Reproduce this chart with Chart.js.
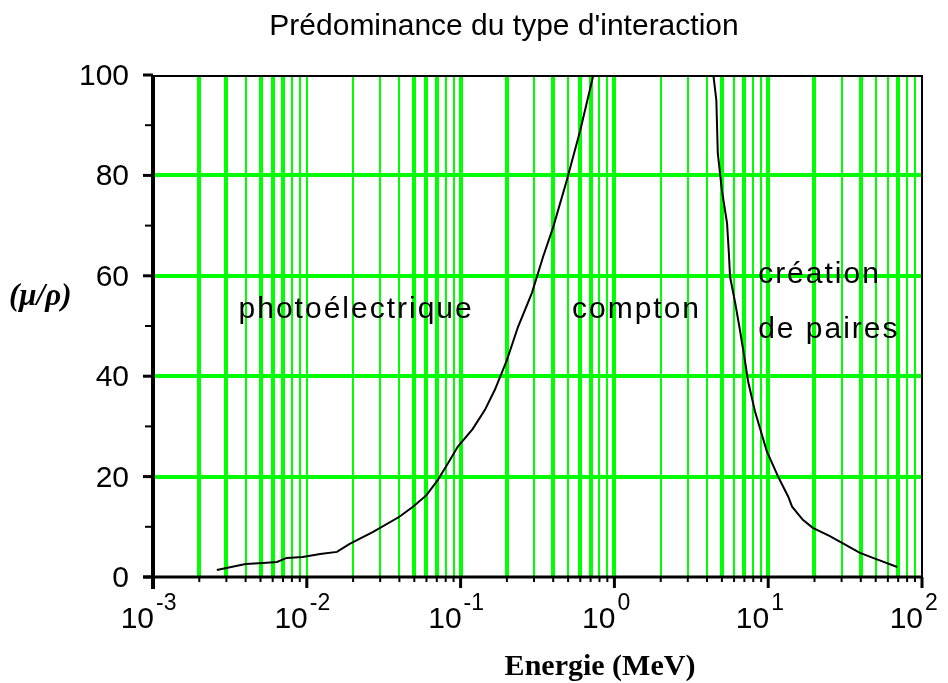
<!DOCTYPE html>
<html>
<head>
<meta charset="utf-8">
<script src="https://cdn.jsdelivr.net/npm/chart.js@4/dist/chart.umd.min.js"></script>
<style>
  html, body { margin: 0; padding: 0; background: #ffffff; }
  #wrap { width: 948px; height: 683px; }
</style>
</head>
<body>
<div id="wrap"><canvas id="c" width="948" height="683"></canvas></div>
<script>
// ---------- texts ----------
const chartTitle = "Prédominance du type d'interaction";
const xAxisTitle = "Energie (MeV)";
const yAxisTitle = "(μ/ρ)";
const regionNames = ["photoélectrique", "compton", "création", "de paires"];
// anchor of each region name in data units (energy MeV, value)
const regionAnchorE = [0.0036, 0.53, 8.6, 8.6];
const regionAnchorV = [51.6, 51.6, 58.6, 47.6];

// ---------- series: photoelectric / compton boundary ----------
const photoComptonE = [0.0026, 0.004, 0.0052, 0.0064, 0.0074, 0.0094, 0.0122, 0.0157, 0.019,
  0.027, 0.04, 0.049, 0.06, 0.071, 0.083, 0.096, 0.12, 0.144, 0.167, 0.20, 0.236, 0.291,
  0.343, 0.40, 0.49, 0.60, 0.73];
const photoComptonV = [1.4, 2.6, 2.8, 3.0, 3.8, 4.0, 4.6, 5.0, 6.6,
  9.0, 12.0, 14.0, 16.3, 19.3, 22.7, 26.0, 29.5, 33.3, 37.3, 43.2, 49.8, 56.6,
  63.7, 69.7, 79.0, 89.0, 100];

// ---------- series: compton / pair creation boundary ----------
const comptonPairE = [4.4, 4.6, 4.7, 5.0, 5.4, 5.55, 5.65, 6.1, 6.55, 7.05, 7.4, 8.2, 9.8,
  11.6, 13.5, 14.3, 16.8, 19.5, 25, 30.2, 39.5, 48, 69];
const comptonPairV = [100, 95, 84.5, 77, 70.5, 64.5, 59.8, 54.6, 49.2, 43.2, 39.0, 33.0, 25.0,
  20.0, 16.0, 14.0, 11.4, 9.8, 8.2, 6.8, 4.8, 3.8, 2.0];

// ---------- axes ----------
const xDecades = [0.001, 0.01, 0.1, 1, 10, 100];
const xDecadeBase = ["10", "10", "10", "10", "10", "10"];
const xDecadeExp = ["-3", "-2", "-1", "0", "1", "2"];
const xMinorMultipliers = [2, 3, 4, 5, 6, 7, 8, 9];
const yMin = 0, yMax = 100, yStep = 10;
const yLabelValues = [0, 20, 40, 60, 80, 100];
const yGridValues = [20, 40, 60, 80];

// ---------- styles ----------
const GREEN = "rgb(0,255,0)";
// thickness pattern of the vertical grid lines, one row per decade (1..9)
const xGridThick = [
  [0, 1, 1, 0, 1, 1, 1, 0, 0],
  [0, 0, 0, 0, 1, 1, 1, 0, 0],
  [1, 1, 0, 1, 0, 1, 1, 0, 0],
  [1, 0, 0, 0, 1, 0, 1, 0, 0],
  [1, 1, 0, 1, 0, 0, 1, 0, 0]
];
const SANS = "'Liberation Sans', Arial, sans-serif";
const SERIF = "'Liberation Serif', 'Times New Roman', serif";

// tick list built from decades & multipliers
const xTicks = [];
for (let d = 0; d < xDecades.length - 1; d++) {
  xTicks.push({ value: xDecades[d], major: true, thick: xGridThick[d][0] });
  xMinorMultipliers.forEach((m, i) => {
    xTicks.push({ value: Number((m * xDecades[d]).toPrecision(12)), major: false, thick: xGridThick[d][i + 1] });
  });
}
xTicks.push({ value: xDecades[xDecades.length - 1], major: true, thick: 0 });

const toPts = (E, V) => E.map((e, i) => ({ x: e, y: V[i] }));

const overlay = {
  id: "overlay",
  afterDraw(chart) {
    const { ctx, chartArea: a, scales } = chart;
    const xs = scales.x, ys = scales.y;
    const line = (x1, y1, x2, y2) => { ctx.beginPath(); ctx.moveTo(x1, y1); ctx.lineTo(x2, y2); ctx.stroke(); };
    ctx.save();
    ctx.strokeStyle = "#000";
    ctx.lineCap = "butt";
    // frame top / right
    ctx.lineWidth = 2;
    line(a.left, a.top + 1, a.right, a.top + 1);
    line(a.right, a.top, a.right, a.bottom);
    // x tick marks
    xTicks.forEach(t => {
      const px = xs.getPixelForValue(t.value);
      ctx.lineWidth = t.major ? 3 : 2;
      line(px, a.bottom, px, a.bottom + (t.major ? 11 : 5));
    });
    // y tick marks
    for (let v = yMin; v <= yMax; v += yStep) {
      const py = ys.getPixelForValue(v);
      const major = yLabelValues.includes(v);
      ctx.lineWidth = major ? 3 : 2;
      line(a.left - (major ? 10 : 8), py, a.left, py);
    }
    // axes
    ctx.lineWidth = 4;
    line(a.left, a.top, a.left, a.bottom + 12);
    ctx.lineWidth = 3;
    line(a.left - 10, a.bottom, a.right, a.bottom);

    ctx.fillStyle = "#000";
    // y labels
    ctx.font = "30px " + SANS;
    ctx.textAlign = "right";
    ctx.textBaseline = "alphabetic";
    yLabelValues.forEach(v => {
      ctx.fillText(String(v), a.left - 24, ys.getPixelForValue(v) + 10);
    });
    // x labels 10^n
    xDecades.forEach((v, i) => {
      const px = xs.getPixelForValue(v);
      ctx.font = "30px " + SANS;
      ctx.textAlign = "right";
      ctx.fillText(xDecadeBase[i], px + 1, a.bottom + 51);
      ctx.font = "23px " + SANS;
      ctx.textAlign = "left";
      ctx.fillText(xDecadeExp[i], px + 3, a.bottom + 33);
    });
    // title
    ctx.font = "30px " + SANS;
    ctx.textAlign = "center";
    ctx.fillText(chartTitle, 504, 35);
    // axis titles
    ctx.font = "bold 30px " + SERIF;
    ctx.fillText(xAxisTitle, 600, 675);
    ctx.font = "italic bold 31px " + SERIF;
    ctx.textAlign = "left";
    ctx.fillText(yAxisTitle, 9, 305);
    // region names
    ctx.font = "30px " + SANS;
    try { ctx.letterSpacing = "2px"; } catch (e) {}
    regionNames.forEach((n, i) => {
      ctx.fillText(n, xs.getPixelForValue(regionAnchorE[i]), ys.getPixelForValue(regionAnchorV[i]));
    });
    ctx.restore();
  }
};

new Chart(document.getElementById("c"), {
  type: "line",
  data: {
    datasets: [
      { data: toPts(photoComptonE, photoComptonV), borderColor: "#000", borderWidth: 2, pointRadius: 0, tension: 0, fill: false },
      { data: toPts(comptonPairE, comptonPairV), borderColor: "#000", borderWidth: 2, pointRadius: 0, tension: 0, fill: false }
    ]
  },
  options: {
    responsive: false,
    animation: false,
    devicePixelRatio: 1,
    layout: { padding: { left: 0, right: 26, top: 75, bottom: 0 } },
    plugins: { legend: { display: false }, title: { display: false }, tooltip: { enabled: false } },
    scales: {
      x: {
        type: "logarithmic",
        min: xDecades[0],
        max: xDecades[xDecades.length - 1],
        afterBuildTicks: s => { s.ticks = xTicks.map(t => ({ value: t.value, major: t.major })); },
        afterFit: s => { s.height = 106; },
        ticks: { display: false },
        border: { display: false },
        grid: {
          drawTicks: false,
          color: c => {
            const v = c.tick && c.tick.value;
            return (v === xDecades[0] || v === xDecades[xDecades.length - 1]) ? "rgba(0,0,0,0)" : GREEN;
          },
          lineWidth: c => (xTicks[c.index] && xTicks[c.index].thick) ? 4 : 2
        }
      },
      y: {
        min: yMin,
        max: yMax,
        afterFit: s => { s.width = 153; },
        ticks: { display: false, stepSize: yStep },
        border: { display: false },
        grid: {
          drawTicks: false,
          color: c => yGridValues.includes(c.tick && c.tick.value) ? GREEN : "rgba(0,0,0,0)",
          lineWidth: 4
        }
      }
    }
  },
  plugins: [overlay]
});
</script>
</body>
</html>
